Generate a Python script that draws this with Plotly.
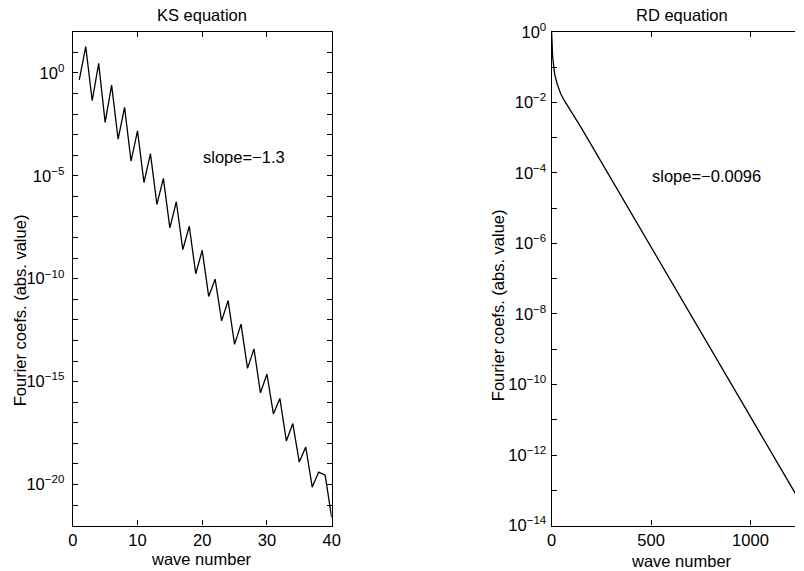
import plotly.graph_objects as go

# ---------------- data ----------------
ks_wave = list(range(1, 41))
ks_coef = [
    4.68e-1, 1.91e1, 4.47e-2, 2.95e0, 3.98e-3, 2.57e-1, 6.03e-4, 2.14e-2,
    5.25e-5, 1.55e-3, 4.68e-6, 1.20e-4, 4.07e-7, 7.59e-6, 2.95e-8, 5.50e-7,
    2.57e-9, 3.55e-8, 1.74e-10, 2.40e-9, 1.38e-11, 9.55e-11, 8.91e-13, 8.71e-12,
    6.46e-14, 6.17e-13, 4.37e-15, 3.89e-14, 2.82e-16, 2.34e-15, 2.69e-17, 1.51e-16,
    1.29e-18, 9.12e-18, 1.23e-19, 6.61e-19, 7.41e-21, 3.98e-20, 2.82e-20, 2.51e-22,
]

rd_wave = [0, 2, 5, 9, 15, 28, 45, 62, 90, 120, 150, 1256]
rd_coef = [0.95, 0.35, 0.20, 0.123, 0.063, 0.0331, 0.0178, 0.0117,
           6.46e-3, 3.47e-3, 1.86e-3, 4.17e-14]

ks_xticks = [0, 10, 20, 30, 40]
rd_xticks = [0, 500, 1000]
ks_label_exps = [-20, -15, -10, -5, 0]
rd_label_exps = [-14, -12, -10, -8, -6, -4, -2, 0]
ks_decades = list(range(-22, 3))
rd_decades = list(range(-14, 1))

titles = ["KS equation", "RD equation"]
slope_texts = ["slope=\u22121.3", "slope=\u22120.0096"]
xlabel = "wave number"
ylabel = "Fourier coefs. (abs. value)"

# ---------------- layout helpers ----------------
W, H = 804, 571
# the captured page is slightly rescaled; map target pixels to paper pixels
AX, BX = 0.987, 1.9
AY, BY = 0.9635, 11.2


def fx(p):
    return ((p - BX) / AX) / W


def fy(p):
    return 1 - ((p - BY) / AY) / H


def sup_label(k):
    s = str(k).replace("-", "\u2212")
    return "10<sup>" + s + "</sup>"


FONT = "Liberation Sans, Arial, Helvetica, sans-serif"
fsize = 16.5

fig = go.Figure()
fig.add_trace(go.Scatter(x=ks_wave, y=ks_coef, mode="lines",
                         line=dict(color="black", width=1.3),
                         xaxis="x", yaxis="y", showlegend=False))
fig.add_trace(go.Scatter(x=rd_wave, y=rd_coef, mode="lines",
                         line=dict(color="black", width=1.3),
                         xaxis="x2", yaxis="y2", showlegend=False))

common = dict(showgrid=False, zeroline=False, showline=True, linecolor="black",
              linewidth=1.2, ticks="inside", ticklen=5, tickcolor="black",
              tickwidth=1, tickfont=dict(family=FONT, size=fsize, color="black"))


def minor_decades(decades):
    return dict(tickvals=[10.0 ** k for k in decades], ticks="inside",
                ticklen=5, tickcolor="black", tickwidth=1, showgrid=False)


ydom = [fy(525), fy(32)]
rd_xmax = 1224

fig.update_layout(
    width=W, height=H,
    margin=dict(l=0, r=0, t=0, b=0),
    paper_bgcolor="white", plot_bgcolor="white",
    font=dict(family=FONT, size=fsize, color="black"),
    showlegend=False,
    xaxis=dict(domain=[fx(70), fx(330)], range=[0, 40], tickvals=ks_xticks,
               mirror="ticks", anchor="y", ticklabelstandoff=0, **common),
    yaxis=dict(domain=ydom, type="log", range=[-22, 2],
               tickvals=[10.0 ** k for k in ks_label_exps],
               ticktext=[sup_label(k) for k in ks_label_exps],
               minor=minor_decades(ks_decades),
               mirror="ticks", anchor="x", ticklabelstandoff=4, **common),
    xaxis2=dict(domain=[fx(551), 1.0], range=[0, rd_xmax], tickvals=rd_xticks,
                mirror="ticks", anchor="y2", ticklabelstandoff=0, **common),
    yaxis2=dict(domain=ydom, type="log", range=[-14, 0],
                tickvals=[10.0 ** k for k in rd_label_exps],
                ticktext=[sup_label(k) for k in rd_label_exps],
                minor=minor_decades(rd_decades),
                mirror=False, anchor="x2", ticklabelstandoff=1, **common),
)


def ann(text, x, y, angle=0):
    fig.add_annotation(text=text, x=fx(x), y=fy(y), xref="paper", yref="paper",
                       xanchor="center", yanchor="middle", showarrow=False,
                       textangle=angle,
                       font=dict(family=FONT, size=fsize, color="black"))


ann(titles[0], 200, 15)
ann(titles[1], 682, 15)
ann(slope_texts[0], 242, 157)
ann(slope_texts[1], 707, 176)
ann(xlabel, 199, 558)
ann(xlabel, 681, 560)
ann(ylabel, 17, 310, -90)
ann(ylabel, 497, 305, -90)

fig.write_html("out.html", config={"displayModeBar": False},
               post_script="document.body.style.margin='0px';"
                           "document.body.style.overflow='hidden';")
